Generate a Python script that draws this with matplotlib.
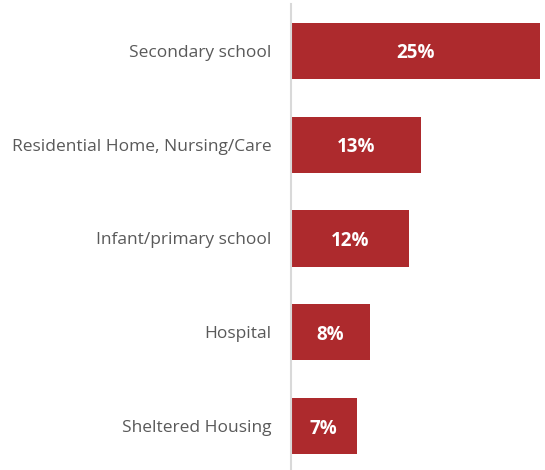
import matplotlib
matplotlib.use("Agg")
import matplotlib.pyplot as plt

categories = ["Secondary school", "Residential Home, Nursing/Care",
              "Infant/primary school", "Hospital", "Sheltered Housing"]
values = [25.0, 13.1, 11.8, 7.9, 6.6]
labels = ["25%", "13%", "12%", "8%", "7%"]

plt.rcParams['font.family'] = ['Open Sans', 'DejaVu Sans']

fig = plt.figure(figsize=(5.45, 4.7), dpi=100)
ax = fig.add_axes([291/545, -3/470, 252/545, 469/470])

ypos = list(range(len(categories)))
bars = ax.barh(ypos, values, height=0.6, color="#AD2A2D")
for b, lab in zip(bars, labels):
    ax.text(b.get_width()/2, b.get_y() + b.get_height()/2, lab,
            ha="center", va="center_baseline", color="white", fontsize=13.5, fontweight="bold")

ax.set_yticks(ypos)
ax.set_yticklabels(categories, fontsize=12.5, color="#595959")
ax.tick_params(axis="y", length=0, pad=14)
ax.set_xticks([])
ax.set_xlim(0, 25.3)
ax.set_ylim(4.5, -0.5)
for s in ["top", "right", "bottom"]:
    ax.spines[s].set_visible(False)
ax.spines["left"].set_color("#D9D9D9")
ax.spines["left"].set_linewidth(1.5)

fig.savefig("out.png", dpi=100)
